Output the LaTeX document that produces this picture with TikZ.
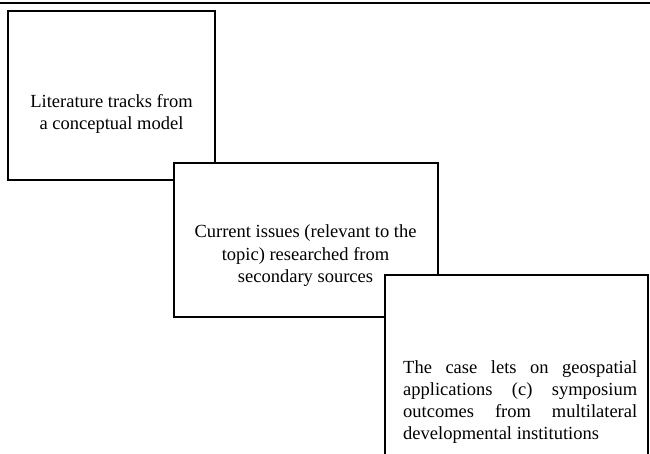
\documentclass[tikz,border=0pt]{standalone}
\usepackage{fontspec}
\setmainfont{Liberation Serif}
\begin{document}
\begin{tikzpicture}[x=1pt,y=-1pt,
  panel/.style={draw=black,line width=1.6pt,fill=white,inner sep=0pt},
  label/.style={font=\fontsize{18.5}{22.5}\selectfont,inner sep=0pt,align=center},
  justlabel/.style={font=\fontsize{18.5}{22}\selectfont,inner sep=0pt,align=justify,text width=234pt}]
\useasboundingbox (0,0) rectangle (650,453);
\clip (0,0) rectangle (650,453);
\coordinate (tl) at (0,2.5);
\coordinate (tr) at (650,2.5);
\draw[line width=2pt] (tl) -- (tr);
\node[panel,minimum width=207pt,minimum height=169pt] (box1) at (111.5,95.5) {};
\node[label] (t1) at (111.5,114) {Literature tracks from\\a conceptual model};
\node[panel,minimum width=264pt,minimum height=154pt] (box2) at (306,240) {};
\node[label] (t2) at (305.5,256) {Current issues (relevant to the\\topic) researched from\\secondary sources};
\node[panel,minimum width=263pt,minimum height=200pt] (box3) at (516.5,375) {};
\node[justlabel,anchor=north west] (t3) at (403,360) {\hyphenpenalty 10000 The case lets on geospatial\linebreak applications (c) symposium\linebreak outcomes from multilateral\linebreak developmental institutions};
\end{tikzpicture}
\end{document}
